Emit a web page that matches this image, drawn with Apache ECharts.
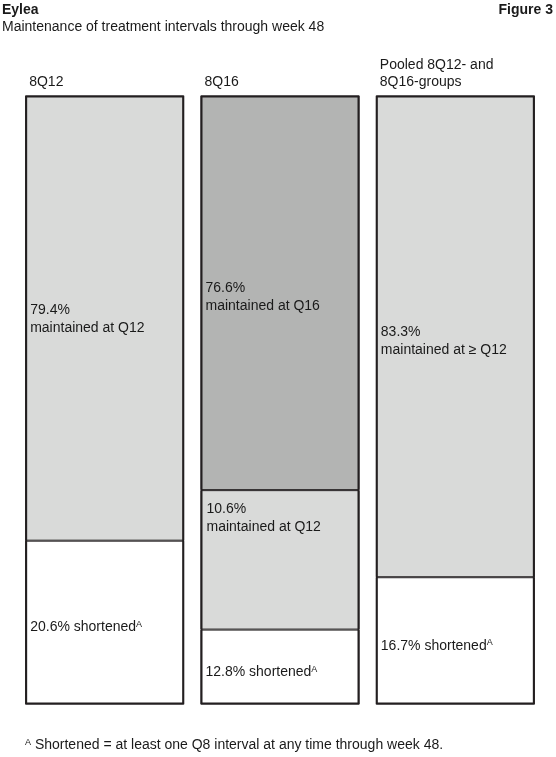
<!DOCTYPE html>
<html>
<head>
<meta charset="utf-8">
<script src="https://cdn.jsdelivr.net/npm/echarts@6/dist/echarts.min.js"></script>
<style>
  html, body { margin: 0; padding: 0; background: #fff; }
  #chart { width: 556px; height: 757px; }
</style>
</head>
<body>
<div id="chart"></div>
<script>
  // groups (column headers)
  var groups = ['8Q12', '8Q16', 'Pooled 8Q12- and\n8Q16-groups'];
  // percentages printed in the figure
  var shortenedPct = [20.6, 12.8, 16.7];
  var maintQ12Pct = [79.4, 10.6, 83.3];
  var maintQ16Pct = [null, 76.6, null];
  var maintQ12Text = ['maintained at Q12', 'maintained at Q12', 'maintained at \u2265 Q12'];
  // segment heights as drawn in the figure (not to scale with the printed %)
  var shortenedDrawn = [26.9, 12.3, 20.9];
  var maintQ12Drawn = [73.1, 22.9, 79.1];
  var maintQ16Drawn = [null, 64.8, null];

  var font = 'Liberation Sans, Arial, sans-serif';
  var lineColor = '#231f20';

  // full column height = sum of the drawn segments, used for the outer frame
  var columnTotal = shortenedDrawn.map(function (v, i) {
    return v + maintQ12Drawn[i] + (maintQ16Drawn[i] || 0);
  });

  var myChart = echarts.init(document.getElementById('chart'));

  // label placement per column for the Q12 block
  var q12Label = [
    {position: 'insideLeft', offset: [0, 1]},
    {position: [6, 10]},
    {position: 'insideLeft', offset: [0, 5]}
  ];

  myChart.setOption({
    animation: false,
    textStyle: {fontFamily: font},
    title: [
      {text: 'Eylea', left: 2, top: 3, padding: 0,
        textStyle: {fontSize: 14, fontWeight: 'bold', color: '#1a1a1a', fontFamily: font}},
      {text: 'Figure 3', right: 3, top: 3, padding: 0,
        textStyle: {fontSize: 14, fontWeight: 'bold', color: '#1a1a1a', fontFamily: font}},
      {text: 'Maintenance of treatment intervals through week 48', left: 2, top: 20, padding: 0,
        textStyle: {fontSize: 14, fontWeight: 'normal', color: '#1a1a1a', fontFamily: font}},
      {text: '{s|A}{t| Shortened = at least one Q8 interval at any time through week 48.}', left: 25, top: 738, padding: 0,
        textStyle: {
          fontFamily: font,
          fontWeight: 'normal',
          rich: {
            s: {fontSize: 9, fontWeight: 'normal', verticalAlign: 'top', color: '#1a1a1a', padding: [0, 0, 6, 0]},
            t: {fontSize: 14, fontWeight: 'normal', color: '#1a1a1a'}
          }
        }}
    ],
    grid: {left: 17, right: 13, top: 95.5, bottom: 52.5},
    xAxis: {
      type: 'category',
      position: 'top',
      data: groups,
      axisLine: {show: false},
      axisTick: {show: false},
      axisLabel: {
        interval: 0,
        margin: 5,
        formatter: function (v) {
          return v.split('\n').map(function (l) { return '{h|' + l + '}'; }).join('\n');
        },
        rich: {
          h: {width: 151, align: 'left', fontSize: 14, lineHeight: 17, color: '#1a1a1a', fontFamily: font}
        }
      }
    },
    yAxis: {type: 'value', min: 0, max: 100, show: false},
    series: [
      {
        name: 'shortened',
        type: 'bar',
        stack: 'all',
        barWidth: 159,
        itemStyle: {color: '#ffffff', borderColor: lineColor, borderWidth: 1},
        label: {
          show: true,
          position: 'insideLeft',
          distance: 5,
          offset: [0, 5],
          formatter: function (p) {
            return '{t|' + shortenedPct[p.dataIndex] + '% shortened}{s|A}';
          },
          rich: {
            t: {fontSize: 14, color: '#1a1a1a', fontFamily: font},
            s: {fontSize: 9, color: '#1a1a1a', verticalAlign: 'top', padding: [0, 0, 6, 0], fontFamily: font}
          }
        },
        data: shortenedDrawn
      },
      {
        name: 'maintained at Q12',
        type: 'bar',
        stack: 'all',
        itemStyle: {color: '#d9dad9', borderColor: lineColor, borderWidth: 1},
        label: {
          show: true,
          position: 'insideLeft',
          distance: 5,
          fontSize: 14,
          lineHeight: 18,
          color: '#1a1a1a',
          formatter: function (p) {
            return maintQ12Pct[p.dataIndex] + '%\n' + maintQ12Text[p.dataIndex];
          }
        },
        data: maintQ12Drawn.map(function (v, i) {
          return {value: v, label: q12Label[i]};
        })
      },
      {
        name: 'maintained at Q16',
        type: 'bar',
        stack: 'all',
        itemStyle: {color: '#b3b4b3', borderColor: lineColor, borderWidth: 1},
        label: {
          show: true,
          position: 'insideLeft',
          distance: 5,
          offset: [0, 4],
          fontSize: 14,
          lineHeight: 18,
          color: '#1a1a1a',
          formatter: function (p) {
            return maintQ16Pct[p.dataIndex] == null ? '' : maintQ16Pct[p.dataIndex] + '%\nmaintained at Q16';
          }
        },
        data: maintQ16Drawn.map(function (v) { return v == null ? '-' : v; })
      },
      {
        // outer frame of each column
        name: 'frame',
        type: 'bar',
        barGap: '-100%',
        barWidth: 159,
        silent: true,
        z: 3,
        itemStyle: {color: 'transparent', borderColor: lineColor, borderWidth: 2},
        label: {show: false},
        data: columnTotal
      }
    ]
  });
</script>
</body>
</html>
